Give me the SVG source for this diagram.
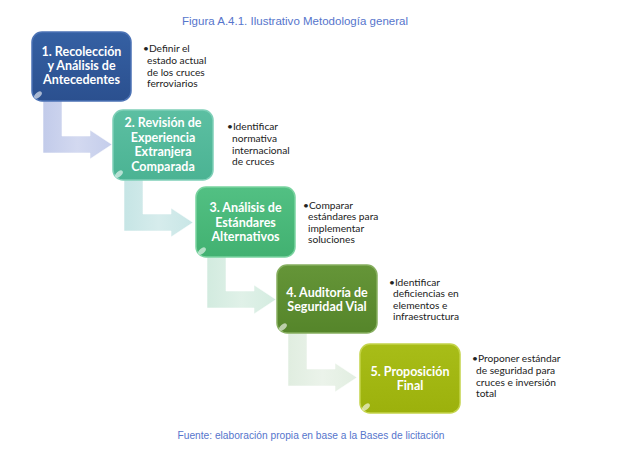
<svg xmlns="http://www.w3.org/2000/svg" xmlns:xlink="http://www.w3.org/1999/xlink" width="618" height="461" viewBox="0 0 618 461">
<style>
.cap{font-family:"Liberation Sans",Arial,sans-serif;font-size:11px;fill:#5675cc;text-anchor:middle}
.lbl{font-family:Lato,"Open Sans",sans-serif;font-weight:bold;font-size:12.5px;fill:#ffffff;text-anchor:middle}
.desc{font-family:Lato,"Open Sans",sans-serif;font-size:10.2px;fill:#222222}
.box{stroke-width:1.5}
.hl{fill:#ffffff;opacity:0.6}
.arr{stroke:#ffffff;stroke-width:0.8;stroke-opacity:0.7}
</style>
<defs>
<path id="ar" d="M11,60 L30,60 L30,104 L58,104 L58,98 L80,112.5 L58,127 L58,121 L11,121 Z"/>
<linearGradient id="a1" x1="0" y1="0" x2="1" y2="0"><stop offset="0" stop-color="#c2cbea"/><stop offset="0.5" stop-color="#d3d9f0"/><stop offset="1" stop-color="#c4cdeb"/></linearGradient>
<linearGradient id="a2" x1="0" y1="0" x2="1" y2="0"><stop offset="0" stop-color="#c6e5e5"/><stop offset="0.5" stop-color="#d6ecec"/><stop offset="1" stop-color="#c8e6e6"/></linearGradient>
<linearGradient id="a3" x1="0" y1="0" x2="1" y2="0"><stop offset="0" stop-color="#d2ebdf"/><stop offset="0.5" stop-color="#e0f1e8"/><stop offset="1" stop-color="#d4ece0"/></linearGradient>
<linearGradient id="a4" x1="0" y1="0" x2="1" y2="0"><stop offset="0" stop-color="#e0ede0"/><stop offset="0.5" stop-color="#ebf3ea"/><stop offset="1" stop-color="#e2eee1"/></linearGradient>
<linearGradient id="g1" x1="0" y1="0" x2="0" y2="1"><stop offset="0" stop-color="#3560a3"/><stop offset="1" stop-color="#2b508f"/></linearGradient>
<linearGradient id="g2" x1="0" y1="0" x2="0" y2="1"><stop offset="0" stop-color="#5cbfa2"/><stop offset="1" stop-color="#4bb393"/></linearGradient>
<linearGradient id="g3" x1="0" y1="0" x2="0" y2="1"><stop offset="0" stop-color="#52c083"/><stop offset="1" stop-color="#42b171"/></linearGradient>
<linearGradient id="g4" x1="0" y1="0" x2="0" y2="1"><stop offset="0" stop-color="#659538"/><stop offset="1" stop-color="#55852a"/></linearGradient>
<linearGradient id="g5" x1="0" y1="0" x2="0" y2="1"><stop offset="0" stop-color="#a8bd18"/><stop offset="1" stop-color="#9cb10c"/></linearGradient>
</defs>

<text class="cap" x="295" y="25" textLength="226" lengthAdjust="spacingAndGlyphs">Figura A.4.1. Ilustrativo Metodología general</text>

<g id="connectors">
<use xlink:href="#ar" href="#ar" class="arr" fill="url(#a1)" transform="translate(32,32)"/>
<use xlink:href="#ar" href="#ar" class="arr" fill="url(#a2)" transform="translate(113,110)"/>
<use xlink:href="#ar" href="#ar" class="arr" fill="url(#a3)" transform="translate(196,187)"/>
<use xlink:href="#ar" href="#ar" class="arr" fill="url(#a4)" transform="translate(277,265)"/>
</g>

<g id="node1">
<rect class="box" x="32" y="32" width="99" height="69" rx="10" fill="url(#g1)" stroke="#4b72b5"/>
<ellipse class="hl" cx="38" cy="95" rx="4.5" ry="2.5" transform="rotate(-40 38 95)"/>
<text class="lbl" x="81.5" y="56">1. Recolección</text>
<text class="lbl" x="81.5" y="70">y Análisis de</text>
<text class="lbl" x="81.5" y="84">Antecedentes</text>
<text class="desc" x="143" y="52">•Definir el</text>
<text class="desc" x="147" y="64">estado actual</text>
<text class="desc" x="147" y="76">de los cruces</text>
<text class="desc" x="147" y="87">ferroviarios</text>
</g>

<g id="node2">
<rect class="box" x="113" y="110" width="100" height="70" rx="10" fill="url(#g2)" stroke="#7fd0b8"/>
<ellipse class="hl" cx="119" cy="174" rx="4.5" ry="2.5" transform="rotate(-40 119 174)"/>
<text class="lbl" x="163" y="127">2. Revisión de</text>
<text class="lbl" x="163" y="141.5">Experiencia</text>
<text class="lbl" x="163" y="156">Extranjera</text>
<text class="lbl" x="163" y="170.5">Comparada</text>
<text class="desc" x="227" y="130">•Identificar</text>
<text class="desc" x="232" y="142">normativa</text>
<text class="desc" x="232" y="154">internacional</text>
<text class="desc" x="232" y="165">de cruces</text>
</g>

<g id="node3">
<rect class="box" x="196" y="187" width="99" height="70" rx="10" fill="url(#g3)" stroke="#7ad3a0"/>
<ellipse class="hl" cx="202" cy="251" rx="4.5" ry="2.5" transform="rotate(-40 202 251)"/>
<text class="lbl" x="245.5" y="212">3. Análisis de</text>
<text class="lbl" x="245.5" y="227">Estándares</text>
<text class="lbl" x="245.5" y="241">Alternativos</text>
<text class="desc" x="303" y="208.5">•Comparar</text>
<text class="desc" x="308" y="220">estándares para</text>
<text class="desc" x="308" y="231.5">implementar</text>
<text class="desc" x="308" y="243">soluciones</text>
</g>

<g id="node4">
<rect class="box" x="277" y="265" width="100" height="68" rx="10" fill="url(#g4)" stroke="#86ae5f"/>
<ellipse class="hl" cx="283" cy="327" rx="4.5" ry="2.5" transform="rotate(-40 283 327)"/>
<text class="lbl" x="327" y="297">4. Auditoría de</text>
<text class="lbl" x="327" y="311">Seguridad Vial</text>
<text class="desc" x="389" y="285.5">•Identificar</text>
<text class="desc" x="393" y="297">deficiencias en</text>
<text class="desc" x="393" y="308.5">elementos e</text>
<text class="desc" x="393" y="320">infraestructura</text>
</g>

<g id="node5">
<rect class="box" x="360" y="344" width="100" height="69" rx="10" fill="url(#g5)" stroke="#c4d44a"/>
<ellipse class="hl" cx="366" cy="407" rx="4.5" ry="2.5" transform="rotate(-40 366 407)"/>
<text class="lbl" x="410" y="376">5. Proposición</text>
<text class="lbl" x="410" y="390">Final</text>
<text class="desc" x="472" y="361.5">•Proponer estándar</text>
<text class="desc" x="476" y="374">de seguridad para</text>
<text class="desc" x="476" y="385.5">cruces e inversión</text>
<text class="desc" x="476" y="397">total</text>
</g>

<text class="cap" x="311" y="439" textLength="267" lengthAdjust="spacingAndGlyphs">Fuente: elaboración propia en base a la Bases de licitación</text>
</svg>
